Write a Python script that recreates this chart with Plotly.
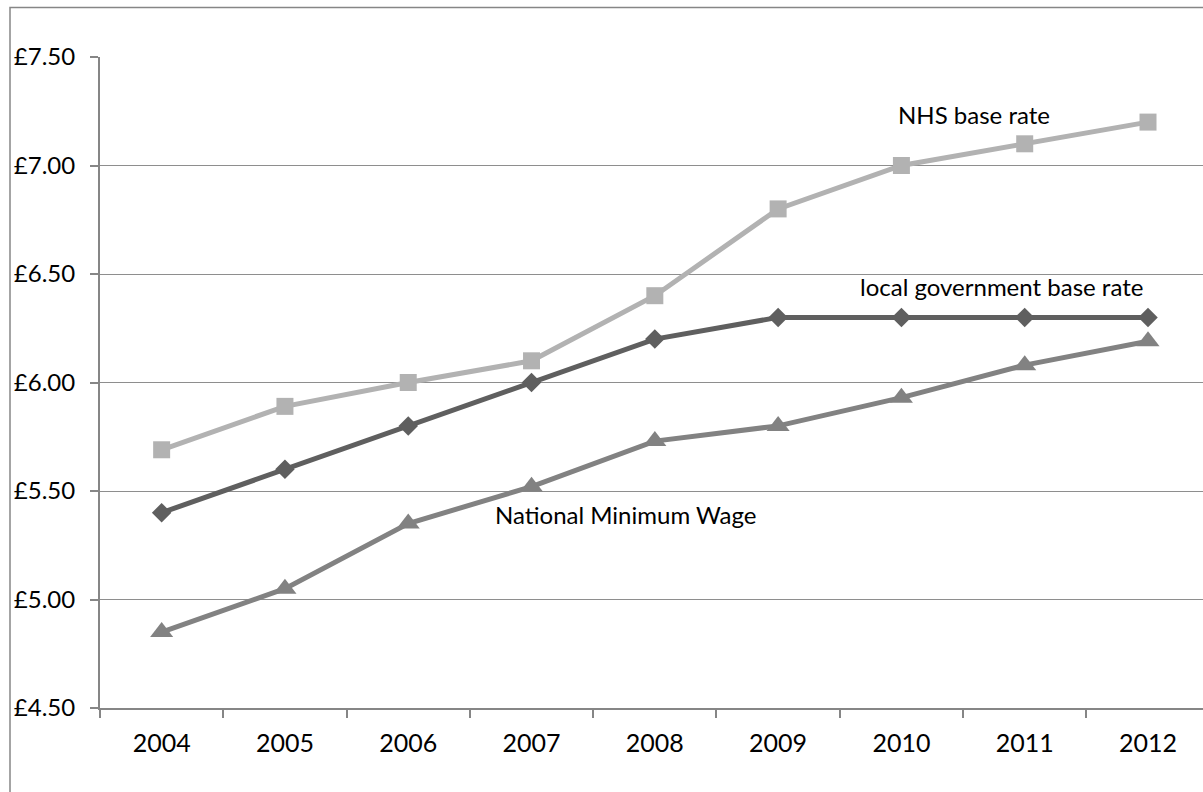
import plotly.graph_objects as go

years = ["2004", "2005", "2006", "2007", "2008", "2009", "2010", "2011", "2012"]
nhs_base_rate = [5.69, 5.89, 6.00, 6.10, 6.40, 6.80, 7.00, 7.10, 7.20]
local_gov_base_rate = [5.40, 5.60, 5.80, 6.00, 6.20, 6.30, 6.30, 6.30, 6.30]
national_min_wage = [4.85, 5.05, 5.35, 5.52, 5.73, 5.80, 5.93, 6.08, 6.19]

FONT = "Lato"

fig = go.Figure()
fig.add_trace(go.Scatter(
    x=years, y=nhs_base_rate, mode="lines+markers", name="NHS base rate",
    line=dict(color="#b2b2b2", width=5),
    marker=dict(symbol="square", size=17, color="#b2b2b2"),
))
fig.add_trace(go.Scatter(
    x=years, y=local_gov_base_rate, mode="lines+markers", name="local government base rate",
    line=dict(color="#5f5f5f", width=5),
    marker=dict(symbol="diamond", size=15, color="#5f5f5f"),
))
fig.add_trace(go.Scatter(
    x=years, y=national_min_wage, mode="lines+markers", name="National Minimum Wage",
    line=dict(color="#828282", width=5),
    marker=dict(symbol="triangle-up", size=20, color="#828282"),
))

annots = [
    ("NHS base rate", 6.59, 7.236),
    ("local government base rate", 6.81, 6.443),
    ("National Minimum Wage", 3.76, 5.393),
]
for text, ax, ay in annots:
    fig.add_annotation(x=ax, y=ay, xref="x", yref="y", text=text, showarrow=False,
                       font=dict(family=FONT, size=24, color="#000000"))

fig.update_layout(
    width=1203, height=792,
    margin=dict(l=100, r=0, t=57, b=84),
    paper_bgcolor="white", plot_bgcolor="white",
    showlegend=False,
    font=dict(family=FONT, size=25, color="#000000"),
    shapes=[dict(type="rect", xref="paper", yref="paper",
                 x0=(10 - 100) / 1103, x1=1.2, y0=-0.3, y1=(708 - 7.5) / 651,
                 line=dict(color="#868686", width=1.5), fillcolor="rgba(0,0,0,0)",
                 layer="below")],
)
fig.update_xaxes(
    type="category", range=[-0.5, 8.446],
    showgrid=False, showline=True, linecolor="#868686", linewidth=2,
    ticks="outside", tickson="boundaries", ticklen=8, tickcolor="#868686", tickwidth=1.5,
    ticklabelstandoff=12,
    tickfont=dict(family=FONT, size=25, color="#000000"),
    zeroline=False, fixedrange=True,
)
fig.update_yaxes(
    range=[4.5, 7.5], dtick=0.5, tick0=4.5, tickprefix="£", tickformat=".2f",
    showgrid=True, gridcolor="#8e8e8e", gridwidth=1,
    showline=True, linecolor="#868686", linewidth=2,
    ticks="outside", ticklen=8, tickcolor="#868686", tickwidth=1.5,
    ticklabelstandoff=10,
    tickfont=dict(family=FONT, size=24, color="#000000"),
    zeroline=False, fixedrange=True,
)

fig.write_html("out.html")
